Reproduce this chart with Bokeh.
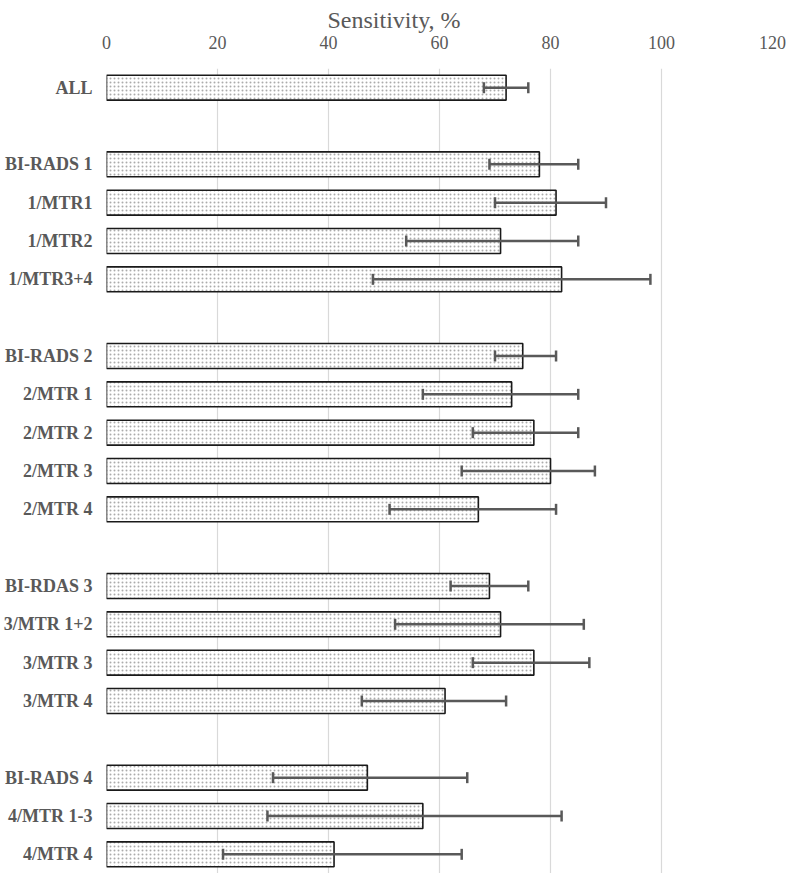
from bokeh.plotting import figure
from bokeh.models import ColumnDataSource, Range1d, FixedTicker, Whisker, TeeHead, Title
from bokeh.embed import file_html
from bokeh.resources import INLINE

# Data (sensitivity % with 95% CI), grouped
groups = [
    ["ALL"],
    ["BI-RADS 1", "1/MTR1", "1/MTR2", "1/MTR3+4"],
    ["BI-RADS 2", "2/MTR 1", "2/MTR 2", "2/MTR 3", "2/MTR 4"],
    ["BI-RDAS 3", "3/MTR 1+2", "3/MTR 3", "3/MTR 4"],
    ["BI-RADS 4", "4/MTR 1-3", "4/MTR 4"],
]
values = [72, 78, 81, 71, 82, 75, 73, 77, 80, 67, 69, 71, 77, 61, 47, 57, 41]
lower = [68, 69, 70, 54, 48, 70, 57, 66, 64, 51, 62, 52, 66, 46, 30, 29, 21]
upper = [76, 85, 90, 85, 98, 81, 85, 85, 88, 81, 76, 86, 87, 72, 65, 82, 64]
x_ticks = [0, 20, 40, 60, 80, 100, 120]
x_title = "Sensitivity, %"

labels = []
rows = []
r = 0
for gi, g in enumerate(groups):
    if gi > 0:
        r += 1
    for name in g:
        labels.append(name)
        rows.append(r)
        r += 1
n_rows = r

src = ColumnDataSource(dict(y=rows, v=values, lo=lower, hi=upper, name=labels))

FONT = "Liberation Serif"
GREY = "#595959"

p = figure(width=786, height=873, output_backend="svg", toolbar_location=None,
           x_range=Range1d(0, 120), y_range=Range1d(n_rows - 0.5, -0.5),
           x_axis_location="above", min_border_left=106, min_border_right=14,
           min_border_top=68, min_border_bottom=0)
p.outline_line_color = None

p.hbar(y="y", left=0, right="v", height=0.65, source=src,
       fill_color="white", line_color="#1a1a1a", line_width=1.6,
       hatch_pattern="dot", hatch_color="#ababab", hatch_scale=4, hatch_weight=1)

w = Whisker(source=src, base="y", lower="lo", upper="hi", dimension="width",
            line_color=GREY, line_width=2.5, level="overlay",
            lower_head=TeeHead(size=11, line_color=GREY, line_width=2.5),
            upper_head=TeeHead(size=11, line_color=GREY, line_width=2.5))
p.add_layout(w)

xa = p.xaxis[0]
xa.ticker = FixedTicker(ticks=x_ticks)
xa.major_label_text_font = FONT
xa.major_label_text_font_size = "18px"
xa.major_label_text_color = GREY
xa.major_label_standoff = 20
xa.axis_line_color = None
xa.major_tick_line_color = None
xa.minor_tick_line_color = None
xa.major_tick_out = 0
xa.major_tick_in = 0

t = Title(text=x_title, align="left", offset=221, standoff=0,
          text_font=FONT, text_font_size="24px", text_font_style="normal",
          text_color=GREY)
p.add_layout(t, "above")

ya = p.yaxis[0]
ya.ticker = FixedTicker(ticks=rows)
ya.major_label_overrides = {int(rr): nm for rr, nm in zip(rows, labels)}
ya.major_label_text_font = FONT
ya.major_label_text_font_size = "18px"
ya.major_label_text_font_style = "bold"
ya.major_label_text_color = GREY
ya.major_label_standoff = 14
ya.axis_line_color = None
ya.major_tick_line_color = None
ya.minor_tick_line_color = None
ya.major_tick_out = 0
ya.major_tick_in = 0

p.xgrid.ticker = FixedTicker(ticks=x_ticks)
p.xgrid.grid_line_color = "#d9d9d9"
p.xgrid.grid_line_width = 1.2
p.ygrid.grid_line_color = None

open("out.html", "w").write(file_html(p, INLINE))
